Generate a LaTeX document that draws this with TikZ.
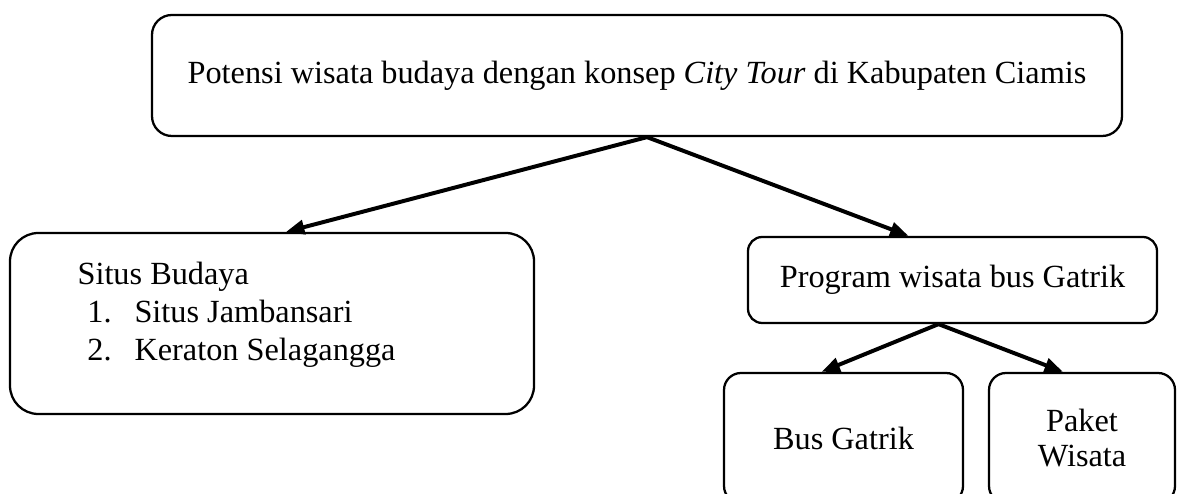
\documentclass[tikz,border=0pt]{standalone}
\usepackage{fontspec}
\setmainfont{Liberation Serif}
\usetikzlibrary{arrows.meta,calc}

\newlength\pix
\setlength\pix{0.3529pt}

\tikzset{
  kotak/.style={draw, line width=0.8pt, inner sep=0pt, align=center,
    font=\fontsize{11.4}{12.4}\selectfont},
  panah/.style={-{Triangle[length=6.5pt,width=5pt]}, line width=1.4pt},
}

\begin{document}
\begin{tikzpicture}[x=1\pix,y=-1\pix]

  % Rahmen
  \useasboundingbox (0,0) rectangle (1180,494);
  \clip (0,0) rectangle (1180,494);

  % Kotak atas
  \node[kotak, rounded corners=7pt, minimum width=970\pix, minimum height=121\pix] (potensi) at (637,75.5)
    {Potensi wisata budaya dengan konsep \textit{City Tour} di Kabupaten Ciamis};

  % Situs budaya
  \node[kotak, rounded corners=10pt, minimum width=524\pix, minimum height=181\pix] (situs) at (272,323.5) {};
  \node[anchor=north west, inner sep=0pt, align=left, font=\fontsize{11.4}{13.4}\selectfont] (daftar) at (77,262)
    {Situs Budaya\\
     \hspace*{3.5pt}\makebox[16.6pt][l]{1.}Situs Jambansari\\
     \hspace*{3.5pt}\makebox[16.6pt][l]{2.}Keraton Selagangga};

  % Program bus
  \node[kotak, rounded corners=5pt, minimum width=409\pix, minimum height=86\pix] (program) at (952.5,280)
    {Program wisata bus Gatrik};
  \node[kotak, rounded corners=6pt, minimum width=239\pix, minimum height=130\pix] (bus) at (843.5,438)
    {Bus Gatrik};
  \node[kotak, rounded corners=6pt, minimum width=186\pix, minimum height=130\pix] (paket) at (1082,438)
    {Paket\\Wisata};

  % Panah
  \coordinate (cabang1) at ($(potensi.south)+(10,0)$);
  \coordinate (cabang2) at ($(program.south)+(-14,0)$);
  \draw[panah] (cabang1) -- ($(situs.north)+(14,0)$);
  \draw[panah] (cabang1) -- ($(program.north)+(-44,0)$);
  \draw[panah] (cabang2) -- ($(bus.north)+(-22,0)$);
  \draw[panah] (cabang2) -- ($(paket.north)+(-19,0)$);

\end{tikzpicture}
\end{document}
